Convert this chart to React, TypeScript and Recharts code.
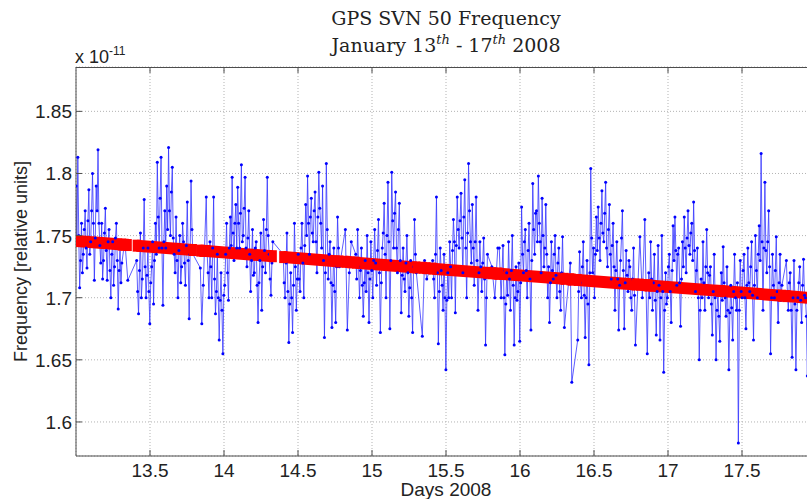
import React from 'react';
import { ComposedChart, Line, XAxis, YAxis, CartesianGrid } from 'recharts';

// SVN 50 frequency, units of 1e-11, one array per tracking pass
const pass01 = [1.790, 1.745, 1.813, 1.750, 1.708, 1.730, 1.760, 1.720, 1.735, 1.755, 1.770, 1.740, 1.724, 1.762, 1.787, 1.735, 1.745, 1.770, 1.800, 1.760, 1.714, 1.748, 1.790, 1.770, 1.819, 1.760, 1.742, 1.728, 1.760, 1.715, 1.730, 1.752, 1.772, 1.738, 1.714, 1.745, 1.755, 1.722, 1.700, 1.735, 1.745, 1.710, 1.725, 1.748, 1.760, 1.730, 1.691, 1.722, 1.740, 1.712, 1.728];
const pass02 = [1.746, 1.714];
const pass03 = [1.730, 1.705, 1.687, 1.722, 1.752, 1.700, 1.715, 1.740, 1.779, 1.725, 1.700, 1.718, 1.740, 1.705, 1.679, 1.712, 1.725, 1.745, 1.695, 1.730, 1.760, 1.735, 1.809, 1.765, 1.740, 1.780, 1.813, 1.740, 1.694, 1.745, 1.770, 1.740, 1.790, 1.755, 1.821, 1.770, 1.750, 1.785, 1.805, 1.748, 1.735, 1.720, 1.765, 1.730, 1.700, 1.738, 1.750, 1.712, 1.725, 1.760, 1.745, 1.728, 1.710, 1.742, 1.777, 1.730, 1.683, 1.735, 1.794, 1.755, 1.735];
const pass04 = [1.724, 1.679, 1.710];
const pass05 = [1.781, 1.735, 1.720, 1.700, 1.745, 1.725, 1.700, 1.740, 1.781, 1.715, 1.687, 1.705, 1.735, 1.700, 1.666, 1.698, 1.720, 1.690, 1.655, 1.702, 1.710, 1.735, 1.760, 1.720, 1.698, 1.740, 1.765, 1.742, 1.797, 1.752, 1.730, 1.760, 1.775, 1.740, 1.789, 1.760, 1.740, 1.768, 1.807, 1.745, 1.750, 1.772, 1.797, 1.740, 1.725, 1.748, 1.770, 1.735, 1.705, 1.730, 1.755, 1.718, 1.720, 1.740, 1.745, 1.710, 1.680, 1.712, 1.730, 1.752, 1.690, 1.725, 1.763, 1.738, 1.720, 1.755, 1.797, 1.750, 1.735, 1.715, 1.702, 1.728, 1.745];
const pass06 = [1.735, 1.712, 1.700, 1.728, 1.752, 1.705, 1.664, 1.695, 1.720, 1.700, 1.672, 1.710, 1.760, 1.725, 1.690, 1.715, 1.735, 1.715, 1.705, 1.740, 1.760, 1.728, 1.700, 1.742, 1.775, 1.750, 1.798, 1.760, 1.735, 1.765, 1.780, 1.752, 1.745, 1.770, 1.785, 1.745, 1.720, 1.765, 1.801, 1.772, 1.760, 1.740, 1.790, 1.730, 1.668, 1.720, 1.808, 1.755, 1.715, 1.735, 1.745, 1.712, 1.676, 1.710, 1.740, 1.705, 1.680, 1.725, 1.765, 1.740, 1.725];
const pass07 = [1.755, 1.674, 1.720, 1.745];
const pass08 = [1.735, 1.715, 1.755, 1.725, 1.700, 1.722, 1.740, 1.710, 1.685, 1.712, 1.730, 1.705, 1.750, 1.720, 1.680, 1.715, 1.745, 1.722, 1.700, 1.730, 1.755, 1.728, 1.710, 1.738, 1.763, 1.720, 1.672, 1.712, 1.740, 1.752, 1.776, 1.735, 1.700, 1.750, 1.793, 1.745, 1.675, 1.730, 1.801, 1.762, 1.740, 1.768, 1.785, 1.740, 1.720, 1.755, 1.776, 1.730, 1.688, 1.718, 1.740, 1.715, 1.705, 1.728, 1.750, 1.720, 1.685, 1.708, 1.730, 1.700, 1.672, 1.725, 1.763, 1.735, 1.720];
const pass09 = [1.669, 1.730, 1.715];
const pass10 = [1.730, 1.715, 1.700, 1.735, 1.781, 1.720, 1.663, 1.705, 1.740, 1.722, 1.710, 1.690, 1.735, 1.700, 1.642, 1.698, 1.720, 1.700, 1.745, 1.725, 1.700, 1.738, 1.763, 1.745, 1.688, 1.742, 1.781, 1.755, 1.740, 1.762, 1.784, 1.748, 1.720, 1.765, 1.795, 1.740, 1.700, 1.752, 1.808, 1.770, 1.745, 1.728, 1.775, 1.740, 1.710, 1.745, 1.781, 1.730, 1.690, 1.720, 1.745, 1.725, 1.705, 1.728, 1.748, 1.715, 1.662, 1.700, 1.735];
const pass11 = [1.725, 1.700, 1.740];
const pass12 = [1.740, 1.718, 1.700, 1.722, 1.742, 1.700, 1.654, 1.695, 1.720, 1.702, 1.745, 1.715, 1.690, 1.722, 1.750, 1.710, 1.662, 1.700, 1.725, 1.698, 1.705, 1.728, 1.665, 1.712, 1.773, 1.735, 1.720, 1.745, 1.755, 1.722, 1.700, 1.738, 1.760, 1.715, 1.674, 1.730, 1.792, 1.755, 1.735, 1.768, 1.770, 1.745, 1.798, 1.760, 1.745, 1.720, 1.780, 1.750, 1.725, 1.740, 1.775, 1.735, 1.700, 1.725, 1.680, 1.712, 1.745, 1.722, 1.715, 1.735, 1.750, 1.718, 1.700, 1.728, 1.740, 1.705, 1.690, 1.720, 1.749, 1.712, 1.676];
const pass13 = [1.728, 1.632];
const pass14 = [1.666, 1.705, 1.737, 1.712, 1.700, 1.725, 1.745, 1.702, 1.668, 1.700, 1.730, 1.695, 1.646, 1.720, 1.804, 1.748, 1.720, 1.740, 1.700, 1.735, 1.765, 1.738, 1.773, 1.748, 1.730, 1.760, 1.786, 1.752, 1.745, 1.768, 1.793, 1.740, 1.725, 1.755, 1.775, 1.735, 1.715, 1.742, 1.760, 1.725, 1.690, 1.722, 1.745, 1.715, 1.674, 1.710, 1.730, 1.748, 1.770, 1.722, 1.675, 1.712, 1.738, 1.718, 1.705, 1.730, 1.725, 1.700, 1.690, 1.715, 1.740, 1.702, 1.662];
const pass15 = [1.749, 1.700, 1.763, 1.655];
const pass16 = [1.720, 1.700, 1.745, 1.715, 1.690, 1.712, 1.735, 1.698, 1.670, 1.705, 1.742, 1.710, 1.666, 1.700, 1.750, 1.705, 1.640, 1.690, 1.720, 1.695, 1.700, 1.725, 1.735, 1.705, 1.680, 1.722, 1.758, 1.730, 1.765, 1.738, 1.710, 1.735, 1.740, 1.712, 1.677, 1.715, 1.745, 1.725, 1.765, 1.740, 1.720, 1.748, 1.770, 1.742, 1.735, 1.752, 1.760, 1.730, 1.777, 1.738, 1.705, 1.722, 1.740, 1.700, 1.650, 1.690, 1.715, 1.700, 1.745, 1.712, 1.690, 1.725, 1.755, 1.720, 1.700, 1.718, 1.725, 1.695, 1.670, 1.705, 1.735, 1.700, 1.650, 1.690, 1.705, 1.685, 1.665];
const pass17 = [1.720, 1.698, 1.741, 1.712, 1.700, 1.685, 1.725, 1.690, 1.642, 1.688, 1.710, 1.692, 1.666, 1.705, 1.735, 1.700, 1.690, 1.712, 1.583, 1.690, 1.730, 1.705, 1.700, 1.722, 1.735, 1.700, 1.675, 1.710, 1.740, 1.712, 1.705, 1.725, 1.745, 1.702, 1.666, 1.710, 1.750, 1.722, 1.700, 1.735, 1.758, 1.730, 1.816, 1.745, 1.690, 1.740, 1.793, 1.738, 1.720, 1.745, 1.770, 1.725, 1.655, 1.700, 1.735, 1.710, 1.700, 1.722, 1.749, 1.705, 1.680, 1.712, 1.735, 1.698, 1.710];
const pass18 = [1.730, 1.705, 1.690, 1.712, 1.720, 1.690, 1.652, 1.700, 1.730, 1.695, 1.642, 1.690, 1.700, 1.712, 1.725, 1.698, 1.680, 1.710, 1.731, 1.702, 1.700, 1.685, 1.637, 1.695, 1.728, 1.705, 1.690, 1.712, 1.715];

const PASSES = [pass01, pass02, pass03, pass04, pass05, pass06, pass07, pass08, pass09, pass10, pass11, pass12, pass13, pass14, pass15, pass16, pass17, pass18];
// time span (days 2008) of each pass, samples evenly spaced inside
const PASS_START = [13.0, 13.33, 13.41, 13.84, 13.88, 14.40, 14.82, 14.89, 15.34, 15.41, 15.81, 15.86, 16.34, 16.39, 16.81, 16.87, 17.36, 17.80];
const PASS_END = [13.31, 13.35, 13.79, 13.86, 14.33, 14.78, 14.86, 15.30, 15.37, 15.78, 15.85, 16.30, 16.35, 16.78, 16.86, 17.35, 17.77, 17.98];

// linear fit, read at start/end of each pass
const FIT_START = [1.7457, 1.7426, 1.7419, 1.7379, 1.7376, 1.7327, 1.7289, 1.7282, 1.7241, 1.7234, 1.7197, 1.7193, 1.7148, 1.7143, 1.7105, 1.7099, 1.7054, 1.7013];
const FIT_END = [1.7428, 1.7424, 1.7384, 1.7377, 1.7334, 1.7292, 1.7285, 1.7244, 1.7238, 1.7200, 1.7194, 1.7152, 1.7146, 1.7107, 1.7100, 1.7055, 1.7016, 1.6996];

const X_TICKS = [13.5, 14, 14.5, 15, 15.5, 16, 16.5, 17, 17.5];
const Y_TICKS = [1.6, 1.65, 1.7, 1.75, 1.8, 1.85];

const SANS = '"Liberation Sans", Arial, Helvetica, sans-serif';
const SERIF = '"DejaVu Serif", serif';
const AXIS_COLOR = '#4d4d4d';
const PLOT_TOP = 67;

const freqData: { x: number; y: number }[] = [];
PASSES.forEach((vals, p) => {
  const step = vals.length > 1 ? (PASS_END[p] - PASS_START[p]) / (vals.length - 1) : 0;
  vals.forEach((v, i) => freqData.push({ x: PASS_START[p] + i * step, y: v }));
});

const fitData: { x: number; y: number | null }[] = [];
PASS_START.forEach((s, p) => {
  fitData.push({ x: s, y: FIT_START[p] });
  fitData.push({ x: PASS_END[p], y: FIT_END[p] });
  fitData.push({ x: PASS_END[p] + 0.001, y: null });
});

// matlab style: ticks point inward, also on the top edge
const BottomTick = ({ x, y, payload }: any) => (
  <g>
    <line x1={x} x2={x} y1={y} y2={y - 6} stroke={AXIS_COLOR} />
    <line x1={x} x2={x} y1={PLOT_TOP} y2={PLOT_TOP + 6} stroke={AXIS_COLOR} />
    <text x={x} y={y + 21} textAnchor="middle" fontFamily={SANS} fontSize={19} fill="#222">
      {payload.value}
    </text>
  </g>
);

const LeftTick = ({ x, y, payload }: any) => (
  <g>
    <line x1={x} x2={x + 6} y1={y} y2={y} stroke={AXIS_COLOR} />
    <text x={x - 4} y={y + 7} textAnchor="end" fontFamily={SANS} fontSize={19} fill="#222">
      {payload.value}
    </text>
  </g>
);

const FitEnd = ({ cx, cy, payload }: any) => {
  if (payload.y == null) return null;
  return <rect key={`f${cx}`} x={cx - 4} y={cy - 6} width={8} height={12} fill="#ff0000" />;
};

const BottomLabel = (p: any) => {
  const cx = p.viewBox.x + p.viewBox.width / 2;
  return (
    <g>
      <text x={cx} y={496} textAnchor="middle" fontFamily={SANS} fontSize={19} fill="#222">
        Days 2008
      </text>
      <g fontFamily={SERIF} fontSize={19} fill="#222">
        <text x={cx} y={25} textAnchor="middle">GPS SVN 50 Frequency</text>
        <text x={cx} y={52} textAnchor="middle">
          January 13<tspan fontSize={13} fontStyle="italic" dy={-8}>th</tspan>
          <tspan dy={8}> - 17</tspan>
          <tspan fontSize={13} fontStyle="italic" dy={-8}>th</tspan>
          <tspan dy={8}> 2008</tspan>
        </text>
      </g>
    </g>
  );
};

const LeftLabel = (p: any) => {
  const vb = p.viewBox;
  const cy = vb.y + vb.height / 2;
  const right = vb.x + vb.width;
  return (
    <g fontFamily={SANS} fill="#222">
      <line x1={right} x2={900} y1={vb.y + 0.5} y2={vb.y + 0.5} stroke={AXIS_COLOR} />
      <text x={right - 1} y={63} fontSize={18}>
        x 10<tspan fontSize={12} dy={-8}>-11</tspan>
      </text>
      <text x={27} y={cy} fontSize={18} textAnchor="middle" transform={`rotate(-90 27 ${cy})`}>
        Frequency [relative units]
      </text>
    </g>
  );
};

export default function App() {
  return (
    <div style={{ position: 'fixed', left: 0, top: 0, width: 807, height: 499, overflow: 'hidden', background: '#fff' }}>
      <ComposedChart width={830} height={499} margin={{ top: PLOT_TOP, right: 14, bottom: 0, left: 16 }}>
        <CartesianGrid stroke="#b3b3b3" strokeDasharray="1 2" />
        <XAxis
          dataKey="x"
          type="number"
          domain={[13, 18]}
          ticks={X_TICKS}
          allowDataOverflow
          height={43}
          stroke={AXIS_COLOR}
          tickLine={false}
          tickSize={0}
          tickMargin={0}
          tick={<BottomTick />}
          label={BottomLabel}
        />
        <YAxis
          type="number"
          domain={[1.5726, 1.8857]}
          ticks={Y_TICKS}
          allowDataOverflow
          width={60}
          stroke={AXIS_COLOR}
          tickLine={false}
          tickSize={0}
          tickMargin={0}
          tick={<LeftTick />}
          label={LeftLabel}
        />
        <Line
          data={freqData}
          dataKey="y"
          type="linear"
          stroke="#3333ff"
          strokeWidth={0.8}
          dot={{ r: 1.5, fill: '#0000ff', stroke: 'none' }}
          isAnimationActive={false}
        />
        <Line
          data={fitData}
          dataKey="y"
          type="linear"
          stroke="#ff0000"
          strokeWidth={12}
          connectNulls={false}
          dot={<FitEnd />}
          isAnimationActive={false}
        />
      </ComposedChart>
    </div>
  );
}
